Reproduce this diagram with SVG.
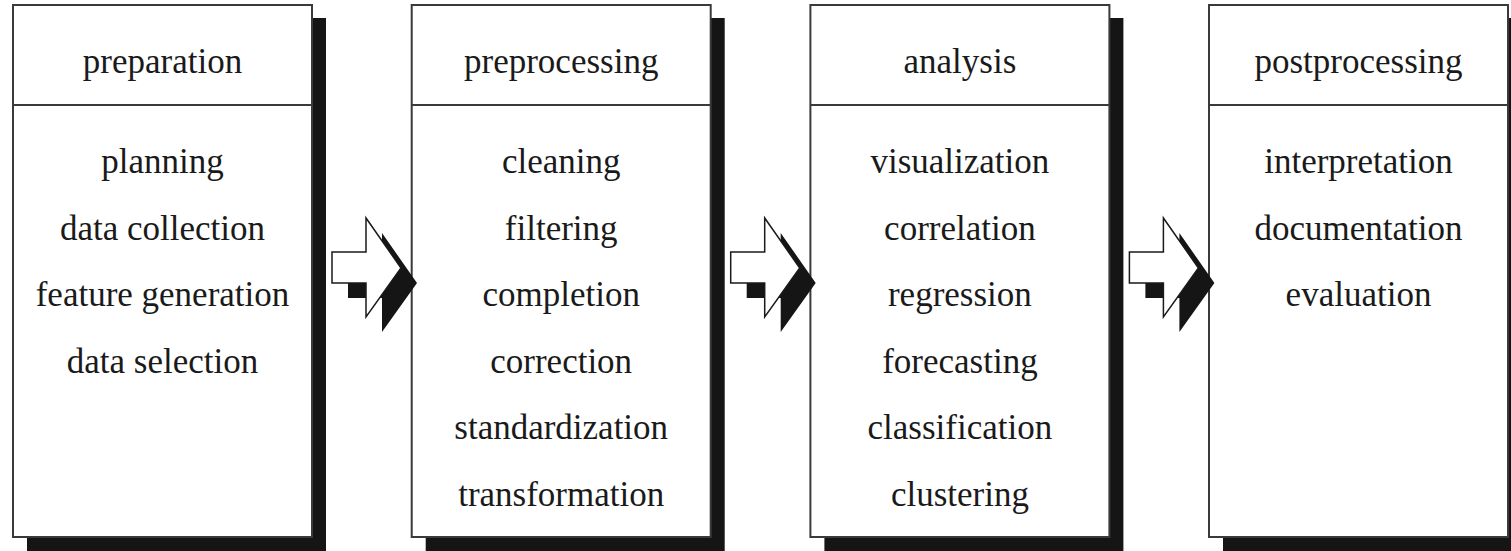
<svg xmlns="http://www.w3.org/2000/svg" width="1511" height="551" viewBox="0 0 1511 551">
  <style>
    .shadow { fill: #151515; }
    .box { fill: #ffffff; stroke: #3a3a3a; stroke-width: 2; }
    .rule { stroke: #3a3a3a; stroke-width: 2; }
    text { font-family: "Liberation Serif", "Times New Roman", serif; font-size: 35px; fill: #1a1a1a; text-anchor: middle; }
    .arrow { fill: #ffffff; stroke: #1a1a1a; stroke-width: 1.5; stroke-linejoin: miter; }
    .arrow-shadow { fill: #151515; }
  </style>
  <defs>
    <!-- block arrow shape, origin at tail left/top corner area -->
    <path id="blockArrow" d="M0,34 L34,34 L34,0 L69,50 L34,99 L34,65 L0,65 Z"/>
  </defs>
  <rect width="1511" height="551" fill="#ffffff"/>

  <g id="preparation">
    <rect class="shadow" x="27" y="18" width="299" height="540"/>
    <rect class="box" x="13" y="5" width="299" height="532"/>
    <line class="rule" x1="13" y1="105" x2="312" y2="105"/>
    <text x="162.5" y="73">preparation</text>
    <text x="162.5" y="173">planning</text>
    <text x="162.5" y="239.5">data collection</text>
    <text x="162.5" y="306">feature generation</text>
    <text x="162.5" y="372.5">data selection</text>
  </g>

  <g id="preprocessing">
    <rect class="shadow" x="425.7" y="18" width="299" height="540"/>
    <rect class="box" x="411.7" y="5" width="299" height="532"/>
    <line class="rule" x1="411.7" y1="105" x2="710.7" y2="105"/>
    <text x="561.2" y="73">preprocessing</text>
    <text x="561.2" y="173">cleaning</text>
    <text x="561.2" y="239.5">filtering</text>
    <text x="561.2" y="306">completion</text>
    <text x="561.2" y="372.5">correction</text>
    <text x="561.2" y="439">standardization</text>
    <text x="561.2" y="505.5">transformation</text>
  </g>

  <g id="analysis">
    <rect class="shadow" x="824.4" y="18" width="299" height="540"/>
    <rect class="box" x="810.4" y="5" width="299" height="532"/>
    <line class="rule" x1="810.4" y1="105" x2="1109.4" y2="105"/>
    <text x="959.9" y="73">analysis</text>
    <text x="959.9" y="173">visualization</text>
    <text x="959.9" y="239.5">correlation</text>
    <text x="959.9" y="306">regression</text>
    <text x="959.9" y="372.5">forecasting</text>
    <text x="959.9" y="439">classification</text>
    <text x="959.9" y="505.5">clustering</text>
  </g>

  <g id="postprocessing">
    <rect class="shadow" x="1223" y="18" width="299" height="540"/>
    <rect class="box" x="1209" y="5" width="299" height="532"/>
    <line class="rule" x1="1209" y1="105" x2="1508" y2="105"/>
    <text x="1358.5" y="73">postprocessing</text>
    <text x="1358.5" y="173">interpretation</text>
    <text x="1358.5" y="239.5">documentation</text>
    <text x="1358.5" y="306">evaluation</text>
  </g>

  <g id="connectors">
    <g transform="translate(332,218)">
      <use href="#blockArrow" class="arrow-shadow" transform="translate(16,15)"/>
      <use href="#blockArrow" class="arrow"/>
    </g>
    <g transform="translate(730.7,218)">
      <use href="#blockArrow" class="arrow-shadow" transform="translate(16,15)"/>
      <use href="#blockArrow" class="arrow"/>
    </g>
    <g transform="translate(1129.4,218)">
      <use href="#blockArrow" class="arrow-shadow" transform="translate(16,15)"/>
      <use href="#blockArrow" class="arrow"/>
    </g>
  </g>
</svg>
